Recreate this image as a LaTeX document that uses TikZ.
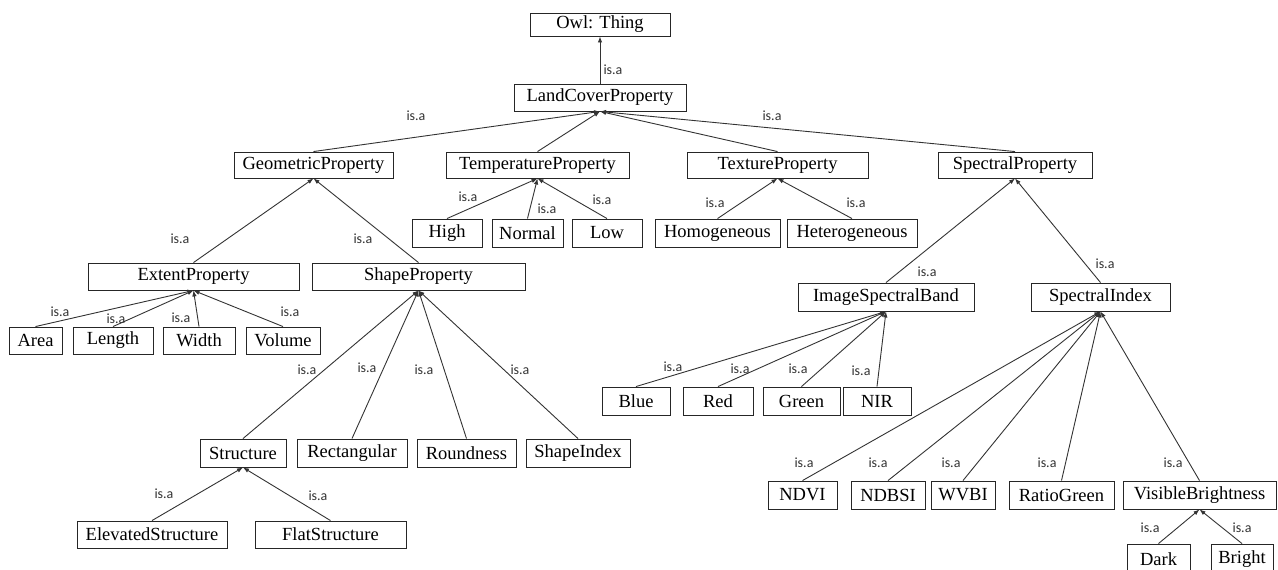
\documentclass[tikz,border=0pt]{standalone}
\usepackage{fontspec}
\setmainfont{Liberation Serif}
\newfontfamily\lblfont{Carlito}
\usetikzlibrary{arrows.meta}

% class box given by its corner coordinates (x1,y1) (x2,y2)
\newcommand\cls[6]{%
  \node[cls, minimum width={#4pt-#2pt}, minimum height={#5pt-#3pt}]
    (#1) at ({(#2+#4)/2},{(#3+#5)/2}) {#6};}
% "is.a" label
\newcommand\isa[3]{\node[isalbl] (#1) at (#2,#3) {is.a};}

\tikzset{
  cls/.style={draw=black!85, line width=0.9pt, rectangle, inner sep=0pt,
    font=\fontsize{18.5}{20}\selectfont, fill=white},
  isalbl/.style={inner sep=0pt, font=\lblfont\fontsize{14}{15}\selectfont, text=black!80},
  isarel/.style={draw=black!80, line width=0.9pt, -{Latex[length=6pt,width=4.5pt]}},
}

\begin{document}
\begin{tikzpicture}[x=1pt, y=-1pt]
\useasboundingbox (0,0) rectangle (1278,570);
\clip (0,0) rectangle (1278,570);

% classes
\cls{owl}{530}{13}{670}{36}{Owl: Thing}
\cls{lcp}{514}{84}{686}{111}{LandCoverProperty}

\cls{geo}{234}{152}{393}{178}{GeometricProperty}
\cls{tmp}{446}{152}{629}{178}{TemperatureProperty}
\cls{tex}{687}{152}{868}{178}{TextureProperty}
\cls{spc}{938}{152}{1092}{178}{SpectralProperty}

\cls{high}{412}{219}{482}{247}{High}
\cls{normal}{492}{219}{563}{247}{Normal}
\cls{low}{572}{219}{642}{247}{Low}
\cls{homo}{655}{219}{780}{247}{Homogeneous}
\cls{hetero}{787}{219}{917}{247}{Heterogeneous}

\cls{ext}{88}{263}{299}{290}{ExtentProperty}
\cls{shp}{312}{263}{525}{290}{ShapeProperty}
\cls{area}{9}{327}{62}{354}{Area}
\cls{length}{73}{327}{153}{354}{Length}
\cls{width}{163}{327}{235}{354}{Width}
\cls{volume}{246}{327}{320}{354}{Volume}

\cls{struct}{200}{439}{286}{467}{Structure}
\cls{rect}{297}{439}{407}{467}{Rectangular}
\cls{round}{417}{439}{516}{467}{Roundness}
\cls{shpidx}{526}{439}{630}{467}{ShapeIndex}
\cls{elev}{77}{521}{227}{548}{ElevatedStructure}
\cls{flat}{255}{521}{406}{548}{FlatStructure}

\cls{isb}{798}{283}{974}{311}{ImageSpectralBand}
\cls{sidx}{1031}{283}{1170}{311}{SpectralIndex}
\cls{blue}{602}{387}{670}{415}{Blue}
\cls{red}{683}{387}{753}{415}{Red}
\cls{green}{763}{387}{840}{415}{Green}
\cls{nir}{843}{387}{911}{415}{NIR}

\cls{ndvi}{768}{481}{837}{509}{NDVI}
\cls{ndbsi}{851}{481}{925}{509}{NDBSI}
\cls{wvbi}{931}{481}{995}{509}{WVBI}
\cls{ratio}{1009}{481}{1114}{509}{RatioGreen}
\cls{vis}{1123}{481}{1276}{509}{VisibleBrightness}
\cls{dark}{1127}{544}{1190}{574}{Dark}
\cls{bright}{1211}{544}{1273}{574}{Bright}

% is.a relations (child -> parent)
\foreach \c/\p in {lcp/owl,
    geo/lcp, tmp/lcp, tex/lcp, spc/lcp,
    high/tmp, normal/tmp, low/tmp, homo/tex, hetero/tex,
    ext/geo, shp/geo, area/ext, length/ext, width/ext, volume/ext,
    struct/shp, rect/shp, round/shp, shpidx/shp, elev/struct, flat/struct,
    isb/spc, sidx/spc, blue/isb, red/isb, green/isb, nir/isb,
    ndvi/sidx, ndbsi/sidx, wvbi/sidx, ratio/sidx, vis/sidx,
    dark/vis, bright/vis}
  \draw[isarel] (\c.north) -- (\p.south);

% relation labels
\isa{l1}{613}{70}
\isa{l2}{416}{116}
\isa{l3}{772}{116}
\isa{l4}{468}{197}
\isa{l5}{547}{209}
\isa{l6}{602}{200}
\isa{l7}{715}{203}
\isa{l8}{856}{203}
\isa{l9}{180}{239}
\isa{l10}{363}{239}
\isa{l11}{60}{312}
\isa{l12}{116}{319}
\isa{l13}{181}{318}
\isa{l14}{290}{312}
\isa{l15}{307}{370}
\isa{l16}{367}{368}
\isa{l17}{424}{370}
\isa{l18}{520}{370}
\isa{l19}{164}{494}
\isa{l20}{318}{496}
\isa{l21}{927}{272}
\isa{l22}{1105}{264}
\isa{l23}{673}{367}
\isa{l24}{740}{369}
\isa{l25}{798}{369}
\isa{l26}{861}{371}
\isa{l27}{804}{463}
\isa{l28}{878}{463}
\isa{l29}{951}{463}
\isa{l30}{1047}{463}
\isa{l31}{1173}{463}
\isa{l32}{1150}{528}
\isa{l33}{1242}{528}
\end{tikzpicture}
\end{document}
